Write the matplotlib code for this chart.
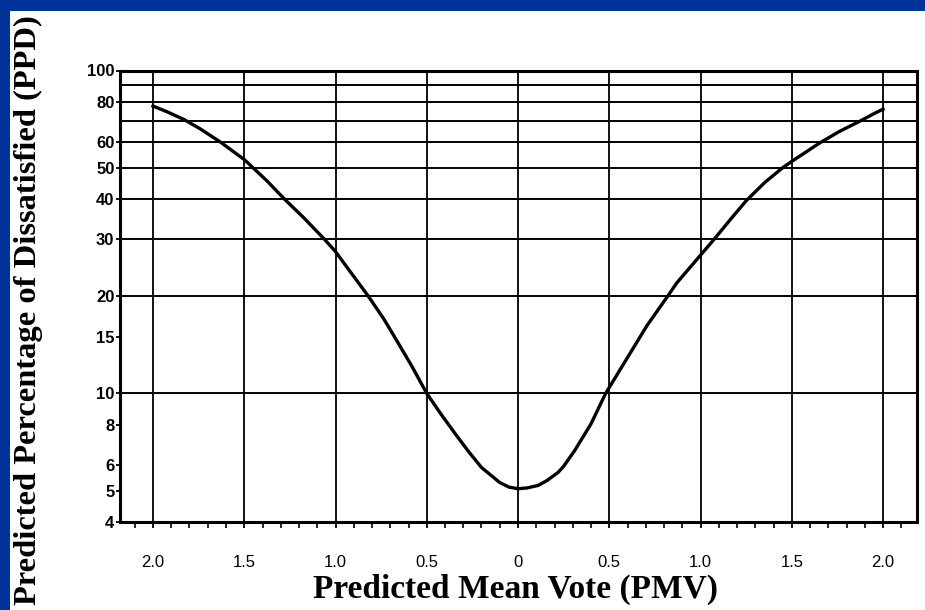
import matplotlib
matplotlib.use("Agg")
import matplotlib.pyplot as plt
from matplotlib.patches import Rectangle
from matplotlib.ticker import MultipleLocator, NullFormatter

# PPD versus PMV curve, read point by point
PMV = [-2.0, -1.925, -1.83, -1.742, -1.63, -1.5, -1.375, -1.28, -1.174, -1.06,
       -1.0, -0.928, -0.82, -0.735, -0.665, -0.58, -0.5, -0.42, -0.34, -0.27,
       -0.2, -0.1, -0.05, 0.0, 0.05, 0.11, 0.16, 0.22, 0.25, 0.31,
       0.40, 0.48, 0.61, 0.706, 0.82, 0.87, 0.98, 1.07, 1.168, 1.25,
       1.352, 1.45, 1.5, 1.65, 1.76, 1.88, 1.946, 2.0]
PPD = [77.6, 74.6, 70.5, 66, 60, 53, 45.5, 40, 35, 30,
       27.5, 24.2, 20, 17, 14.6, 12.1, 10, 8.6, 7.45, 6.6,
       5.9, 5.3, 5.13, 5.07, 5.1, 5.19, 5.38, 5.7, 5.95, 6.65,
       8.05, 10, 13.2, 16.2, 20, 22, 26, 29.8, 34.8, 39.5,
       45, 50, 52.3, 59.5, 64.7, 70, 73.3, 75.9]

X_TICKS = [-2.0, -1.5, -1.0, -0.5, 0.0, 0.5, 1.0, 1.5, 2.0]
X_TICK_LABELS = ["2.0", "1.5", "1.0", "0.5", "0", "0.5", "1.0", "1.5", "2.0"]
Y_TICKS = [4, 5, 6, 8, 10, 15, 20, 30, 40, 50, 60, 80, 100]
Y_TICK_LABELS = ["4", "5", "6", "8", "10", "15", "20", "30", "40", "50", "60", "80", "100"]
Y_GRID = [10, 20, 30, 40, 50, 60, 70, 80, 90]

X_LABEL = "Predicted Mean Vote (PMV)"
Y_LABEL = "Predicted Percentage of Dissatisfied (PPD)"

W, H = 925, 610
fig = plt.figure(figsize=(W / 100, H / 100), dpi=100, facecolor="#003399")

# white slide panel inside the blue frame
fig.add_artist(Rectangle((10 / W, 0), 1 - 10 / W, 1 - 11 / H,
                         transform=fig.transFigure, facecolor="white",
                         edgecolor="none", zorder=0))

left, right, top, bottom = 120, 917, 70.5, 522
ax = fig.add_axes([left / W, 1 - bottom / H, (right - left) / W, (bottom - top) / H])
ax.set_facecolor("white")

ax.set_yscale("log")
ax.set_ylim(4, 100)
ax.set_xlim(-2.0 - 33 / 182.5, 2.0 + 34 / 182.5)

ax.plot(PMV, PPD, color="black", lw=2.4, solid_joinstyle="round", zorder=3)

# axis ticks and labels
ax.set_xticks(X_TICKS, labels=X_TICK_LABELS)
ax.xaxis.set_minor_locator(MultipleLocator(0.1))
ax.set_yticks(Y_TICKS, labels=Y_TICK_LABELS)
ax.set_yticks(Y_GRID, minor=True)
ax.yaxis.set_minor_formatter(NullFormatter())
ax.yaxis.remove_overlapping_locs = False

ax.tick_params(axis="x", which="major", direction="out", length=4.5, width=1.3,
               pad=19, labelsize=12, colors="black")
ax.tick_params(axis="x", which="minor", direction="out", length=4.0, width=1.2)
ax.tick_params(axis="y", which="major", direction="out", length=3, width=1.3,
               pad=1, labelsize=12)
ax.tick_params(axis="y", which="minor", length=0)
for lab in ax.get_yticklabels():
    lab.set_fontfamily("Liberation Sans")
    lab.set_fontweight("bold")
for lab in ax.get_xticklabels():
    lab.set_fontfamily("Liberation Sans")

# grid: vertical lines on the half units, horizontal lines on the decade steps
ax.xaxis.grid(True, which="major", color="black", lw=1.3)
ax.yaxis.grid(True, which="minor", color="black", lw=1.4)
ax.set_axisbelow(True)

for sp in ax.spines.values():
    sp.set_linewidth(2.2)
    sp.set_color("black")

ax.set_xlabel(X_LABEL, fontsize=24, fontweight="bold", family="Liberation Serif",
              va="center")
ax.xaxis.set_label_coords((515.5 - left) / (right - left), (bottom - 589) / (bottom - top))
ax.set_ylabel(Y_LABEL, fontsize=23.4, fontweight="bold", family="Liberation Serif",
              va="center")
ax.yaxis.set_label_coords((28 - left) / (right - left), (bottom - 310) / (bottom - top))

fig.savefig("out.png", dpi=100, facecolor=fig.get_facecolor())
